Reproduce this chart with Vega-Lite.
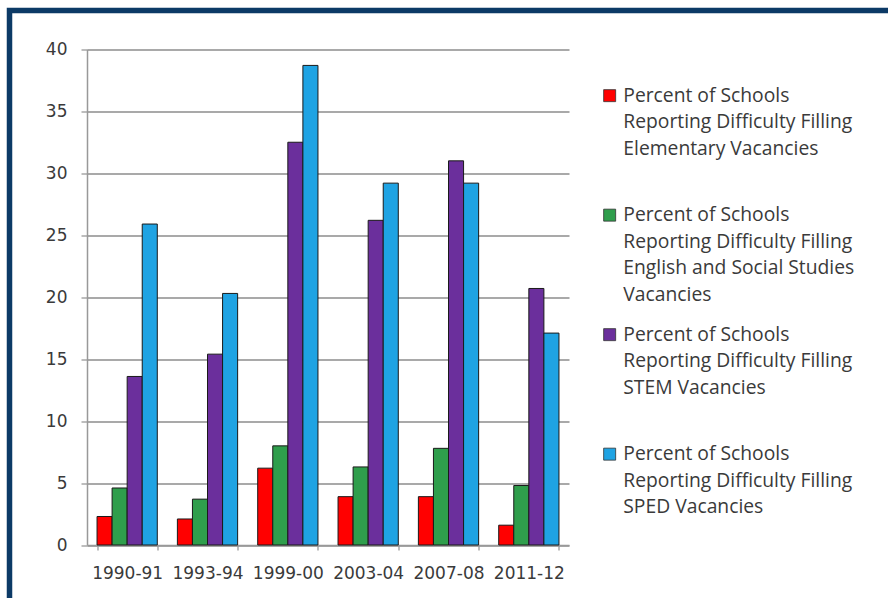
{
  "$schema": "https://vega.github.io/schema/vega-lite/v6.json",
  "width": 884.5,
  "height": 593.5,
  "autosize": {"type": "none"},
  "padding": {"left": 9.5, "top": 10.5, "right": -6, "bottom": -6},
  "background": "white",
  "config": {
    "view": {"stroke": "#0c3a66", "strokeWidth": 5.5},
    "axis": {"labelColor": "#3a3a3a"},
    "style": {"guide-label": {"lineHeight": 26.5}}
  },
  "data": {
    "values": [
      {"year": "1990-91", "category": "Elementary Vacancies", "value": 2.3},
      {"year": "1990-91", "category": "English and Social Studies Vacancies", "value": 4.6},
      {"year": "1990-91", "category": "STEM Vacancies", "value": 13.6},
      {"year": "1990-91", "category": "SPED Vacancies", "value": 25.9},
      {"year": "1993-94", "category": "Elementary Vacancies", "value": 2.1},
      {"year": "1993-94", "category": "English and Social Studies Vacancies", "value": 3.7},
      {"year": "1993-94", "category": "STEM Vacancies", "value": 15.4},
      {"year": "1993-94", "category": "SPED Vacancies", "value": 20.3},
      {"year": "1999-00", "category": "Elementary Vacancies", "value": 6.2},
      {"year": "1999-00", "category": "English and Social Studies Vacancies", "value": 8.0},
      {"year": "1999-00", "category": "STEM Vacancies", "value": 32.5},
      {"year": "1999-00", "category": "SPED Vacancies", "value": 38.7},
      {"year": "2003-04", "category": "Elementary Vacancies", "value": 3.9},
      {"year": "2003-04", "category": "English and Social Studies Vacancies", "value": 6.3},
      {"year": "2003-04", "category": "STEM Vacancies", "value": 26.2},
      {"year": "2003-04", "category": "SPED Vacancies", "value": 29.2},
      {"year": "2007-08", "category": "Elementary Vacancies", "value": 3.9},
      {"year": "2007-08", "category": "English and Social Studies Vacancies", "value": 7.8},
      {"year": "2007-08", "category": "STEM Vacancies", "value": 31.0},
      {"year": "2007-08", "category": "SPED Vacancies", "value": 29.2},
      {"year": "2011-12", "category": "Elementary Vacancies", "value": 1.6},
      {"year": "2011-12", "category": "English and Social Studies Vacancies", "value": 4.8},
      {"year": "2011-12", "category": "STEM Vacancies", "value": 20.7},
      {"year": "2011-12", "category": "SPED Vacancies", "value": 17.1}
    ]
  },
  "mark": {"type": "bar", "stroke": "#1a1a1a", "strokeWidth": 1},
  "encoding": {
    "x": {
      "field": "year",
      "type": "nominal",
      "sort": null,
      "scale": {"range": [77.5, 559.5], "paddingInner": 0.25, "paddingOuter": 0.125},
      "axis": {
        "title": null,
        "orient": "bottom",
        "offset": -59,
        "labelAngle": 0,
        "tickBand": "extent",
        "tickSize": 5,
        "tickColor": "#999999",
        "tickWidth": 1.3,
        "domainColor": "#999999",
        "domainWidth": 1.5,
        "labelFont": "DejaVu Sans",
        "labelFontSize": 17,
        "labelPadding": 15.5,
        "grid": false
      }
    },
    "xOffset": {
      "field": "category",
      "type": "nominal",
      "sort": ["Elementary Vacancies", "English and Social Studies Vacancies", "STEM Vacancies", "SPED Vacancies"]
    },
    "y": {
      "field": "value",
      "type": "quantitative",
      "scale": {"domain": [0, 40], "range": [534.5, 38.8], "nice": false, "zero": true},
      "axis": {
        "title": null,
        "offset": -77.5,
        "values": [0, 5, 10, 15, 20, 25, 30, 35, 40],
        "tickSize": 6,
        "tickColor": "#999999",
        "tickWidth": 1.3,
        "domainColor": "#999999",
        "domainWidth": 1.5,
        "grid": true,
        "gridColor": "#8c8c8c",
        "gridWidth": 1.3,
        "labelFont": "DejaVu Sans",
        "labelFontSize": 17,
        "labelPadding": 14
      }
    },
    "color": {
      "field": "category",
      "type": "nominal",
      "scale": {
        "domain": ["Elementary Vacancies", "English and Social Studies Vacancies", "STEM Vacancies", "SPED Vacancies"],
        "range": ["#ff0000", "#2f9e4c", "#6b2f9c", "#1fa3e3"]
      },
      "legend": {
        "orient": "none",
        "legendX": 590.5,
        "legendY": 66.8,
        "title": null,
        "padding": 0,
        "symbolType": "M-1,0.45H1V2.45H-1Z",
        "symbolSize": 144,
        "symbolStrokeColor": "#333333",
        "symbolStrokeWidth": 0.8,
        "labelFont": "Open Sans",
        "labelFontSize": 19.3,
        "labelColor": "#3a3a3a",
        "labelBaseline": "top",
        "labelOffset": 4,
        "labelLimit": 400,
        "rowPadding": 10.5,
        "gridAlign": "all",
        "labelExpr": "datum.label == 'English and Social Studies Vacancies' ? ['Percent of Schools', 'Reporting Difficulty Filling', 'English and Social Studies', 'Vacancies'] : ['Percent of Schools', 'Reporting Difficulty Filling', datum.label]",
        "encode": {"labels": {"lineHeight": {"value": 26.5}}}
      }
    }
  }
}
